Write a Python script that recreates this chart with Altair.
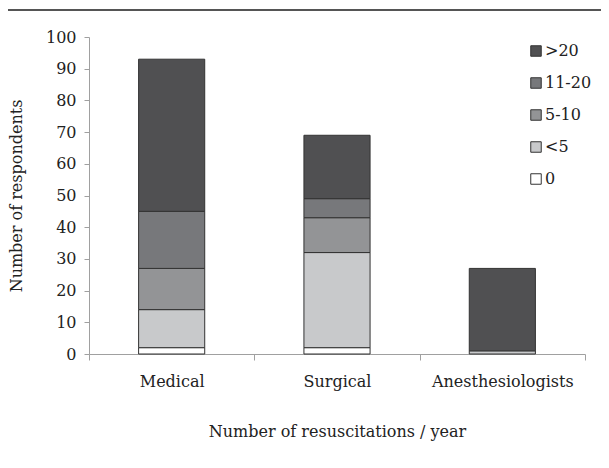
import altair as alt
import pandas as pd

groups = ["Medical", "Surgical", "Anesthesiologists"]
levels = ["0", "<5", "5-10", "11-20", ">20"]
legend_order = [">20", "11-20", "5-10", "<5", "0"]
colors = ["#ffffff", "#c8c9cb", "#939496", "#77787b", "#505052"]

v_zero = [2, 2, 0]
v_lt5 = [12, 30, 1]
v_5_10 = [13, 11, 0]
v_11_20 = [18, 6, 0]
v_gt20 = [48, 20, 26]

series = [v_zero, v_lt5, v_5_10, v_11_20, v_gt20]
rows = []
for li, (lvl, vals) in enumerate(zip(levels, series)):
    for g, v in zip(groups, vals):
        rows.append({"group": g, "level": lvl, "value": v, "ord": li})
df = pd.DataFrame(rows)

FONT = "DejaVu Serif"

bars = alt.Chart(df).transform_filter(alt.datum.value > 0).mark_bar(
    width=alt.RelativeBandSize(0.4), stroke="#333333", strokeWidth=1
).encode(
    x=alt.X("group:N", sort=groups,
            scale=alt.Scale(paddingInner=0, paddingOuter=0),
            axis=alt.Axis(title="Number of resuscitations / year", labelAngle=0,
                          tickBand="extent", tickSize=6, labelPadding=13,
                          titlePadding=34, domainColor="#a0a0a0", tickColor="#a0a0a0")),
    y=alt.Y("value:Q", stack="zero",
            scale=alt.Scale(domain=[0, 100]),
            axis=alt.Axis(title="Number of respondents", values=list(range(0, 101, 10)),
                          grid=False, tickSize=5, labelPadding=8, titlePadding=21,
                          domainColor="#a0a0a0", tickColor="#a0a0a0")),
    color=alt.Color("level:N", sort=legend_order,
                    scale=alt.Scale(domain=levels, range=colors),
                    legend=alt.Legend(title=None, orient="none", legendX=439, legendY=6,
                                      symbolType="square", symbolSize=110,
                                      symbolStrokeColor="#333333", symbolStrokeWidth=1,
                                      rowPadding=16, labelOffset=1,
                                      values=legend_order)),
    order=alt.Order("ord:Q", sort="ascending"),
)

topline = alt.Chart(pd.DataFrame({"k": [0]})).mark_rule(color="#555555", strokeWidth=2).encode(
    x=alt.value(-81), x2=alt.value(530), y=alt.value(-27)
)

chart = alt.layer(topline, bars).properties(
    width=496, height=317,
    autosize=alt.AutoSizeParams(type="none"),
    padding={"left": 81, "top": 29, "right": 16, "bottom": 106},
).configure_view(stroke=None).configure_axis(
    labelFont=FONT, titleFont=FONT, labelFontSize=16, titleFontSize=16,
    labelColor="#222222", titleColor="#222222", titleFontWeight="normal",
).configure_legend(labelFont=FONT, labelFontSize=16, labelColor="#222222")

chart.save("out.html", embed_options={"renderer": "svg", "actions": False})
